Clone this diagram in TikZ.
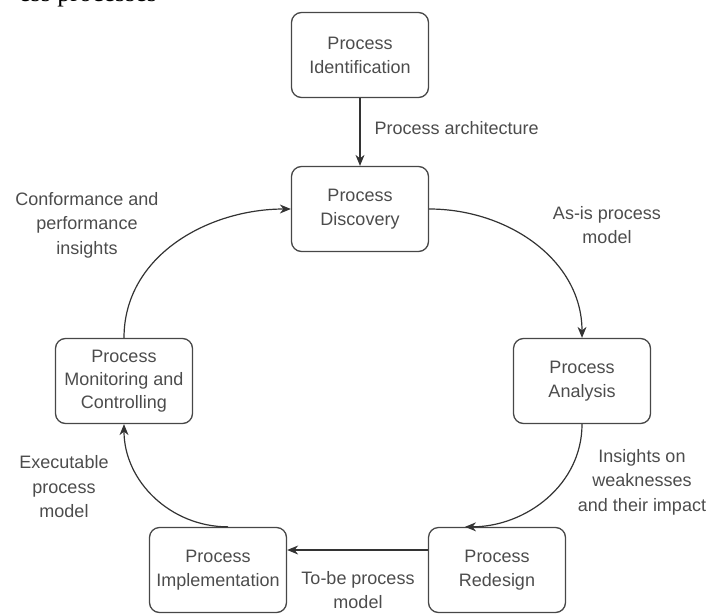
\documentclass[tikz,border=0pt]{standalone}
\usepackage{fontspec}
\setmainfont{Liberation Sans}
\newfontfamily\pageserif{Liberation Serif}
\usetikzlibrary{arrows.meta}

\tikzset{
  procbox/.style={draw=black!72, line width=1.3pt, rounded corners=10pt,
    minimum width=137pt, minimum height=85pt, align=center, text=black!70,
    font=\fontsize{18}{24}\selectfont},
  edgelabel/.style={align=center, text=black!70, font=\fontsize{18}{24.5}\selectfont},
  flow/.style={draw=black!80, line width=1.2pt, -{Stealth[length=11pt,width=9pt]}}
}

\begin{document}
\begin{tikzpicture}[x=1pt,y=1pt]
    \useasboundingbox (0,0) rectangle (708,-615);
    % cut-off line of the page above the figure
    \begin{scope}
      \clip (0,0) rectangle (708,-615);
      \node[anchor=base west, inner sep=0pt, font=\pageserif\fontsize{26}{30}\selectfont] (pageline) at (19,-1.5) {ess processes};
    \end{scope}
    % stages of the cycle
    \node[procbox] (ident) at (360,-55)  {Process\\Identification};
    \node[procbox] (disc)  at (360,-209) {Process\\Discovery};
    \node[procbox] (anal)  at (582,-381) {Process\\Analysis};
    \node[procbox] (redes) at (497,-570) {Process\\Redesign};
    \node[procbox] (impl)  at (218,-570) {Process\\Implementation};
    \node[procbox, font=\fontsize{18}{23}\selectfont] (moni) at (124,-381) {Process\\Monitoring and\\Controlling};
    % outputs passed between the stages
    \draw[flow] (ident) -- (disc);
    \draw[flow] (disc.east) to[out=0,in=90] (anal.north);
    \draw[flow] (anal.south) to[out=-90,in=0] ([xshift=-32pt]redes.north);
    \draw[flow] ([yshift=20pt]redes.west) -- ([yshift=20pt]impl.east);
    \draw[flow] ([xshift=10pt]impl.north) to[out=180,in=-90] (moni.south);
    \draw[flow] (moni.north) to[out=90,in=180] (disc.west);
    % labels
    \node[edgelabel, anchor=west] (archlbl) at (371,-128) {Process architecture};
    \node[edgelabel] (asislbl)  at (607,-225) {As-is process\\model};
    \node[edgelabel] (weaklbl)  at (642,-482) {Insights on\\weaknesses\\and their impact};
    \node[edgelabel] (tobelbl)  at (358,-590) {To-be process\\model};
    \node[edgelabel] (execlbl)  at (64,-487)  {Executable\\process\\model};
    \node[edgelabel] (conflbl)  at (87,-225)  {Conformance and\\performance\\insights};
\end{tikzpicture}
\end{document}
